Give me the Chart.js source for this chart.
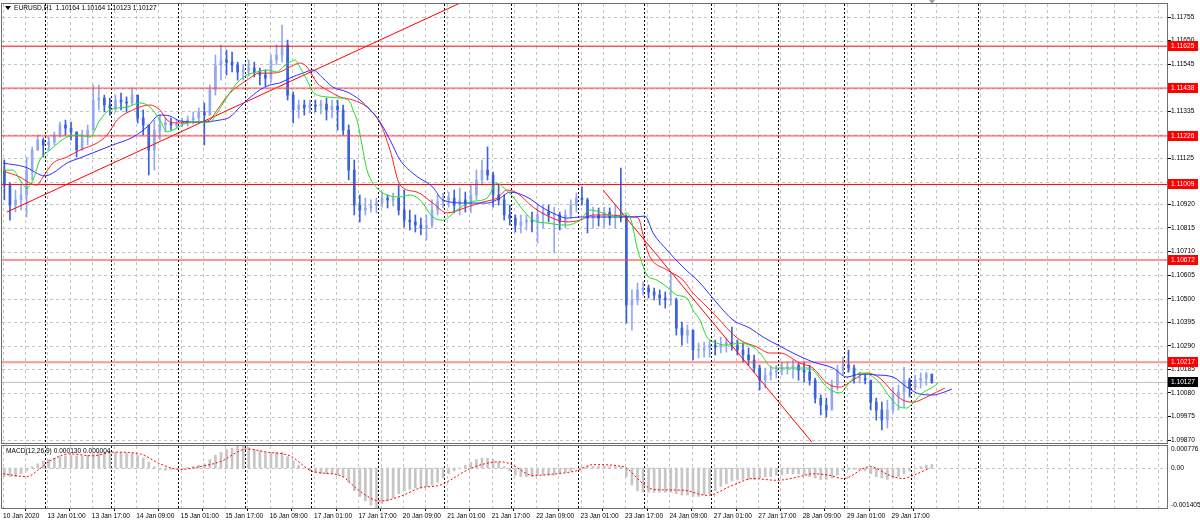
<!DOCTYPE html>
<html lang="en">
<head>
  <meta charset="UTF-8" />
  <title>EURUSD,H1</title>
  <script src="https://cdn.jsdelivr.net/npm/chart.js"></script>
  <style>
    html, body { margin: 0; padding: 0; background: #fff; }
    #wrap { position: relative; width: 1200px; height: 525px; overflow: hidden; background: #fff; }
    #wrap canvas { position: absolute; left: 0; }
    #priceChart { top: 0; }
    #macdChart { top: 440px; }
  </style>
</head>
<body>
<div id="wrap">
  <canvas id="priceChart" width="1200" height="447" style="width:1200px;height:447px"></canvas>
  <canvas id="macdChart" width="1200" height="85" style="width:1200px;height:85px"></canvas>
</div>
<script>
  // ---- data (2-hour candles, x in hourly bar index) ----
  const symbol = 'EURUSD,H1';
  const lastQuote = [1.10164, 1.10164, 1.10123, 1.10127]; // O H L C of the last bar
  const candleHours = 2;
  const firstOpen = 1.11073;

  const highs = [
    1.11118,1.11015,1.10984,1.11006,1.11131,1.11176,1.11229,1.11216,1.11220,1.11243,
    1.11287,1.11296,1.11287,1.11243,1.11251,1.11274,1.11452,1.11452,1.11407,1.11394,
    1.11407,1.11416,1.11399,1.11439,1.11407,1.11341,1.11274,1.11296,1.11318,1.11305,
    1.11305,1.11300,1.11305,1.11314,1.11332,1.11350,1.11372,1.11452,1.11586,1.11630,
    1.11608,1.11599,1.11554,1.11541,1.11563,1.11554,1.11528,1.11519,1.11586,1.11630,
    1.11719,1.11652,1.11421,1.11385,1.11385,1.11385,1.11385,1.11385,1.11394,1.11385,
    1.11385,1.11363,1.11274,1.11118,1.10962,1.10948,1.10940,1.10948,1.10975,1.10962,
    1.10971,1.11006,1.10984,1.10895,1.10873,1.10859,1.10873,1.10940,1.10962,1.10971,
    1.10975,1.10984,1.10993,1.10975,1.11006,1.11073,1.11118,1.11176,1.11064,1.11006,
    1.10962,1.10917,1.10873,1.10873,1.10873,1.10886,1.10917,1.10917,1.10917,1.10908,
    1.10886,1.10895,1.10940,1.10971,1.10997,1.10948,1.10908,1.10904,1.10908,1.10904,
    1.10917,1.11082,1.10873,1.10539,1.10570,1.10574,1.10561,1.10547,1.10539,1.10530,
    1.10614,1.10503,1.10396,1.10383,1.10360,1.10302,1.10307,1.10316,1.10316,1.10329,
    1.10325,1.10374,1.10316,1.10302,1.10280,1.10249,1.10204,1.10191,1.10200,1.10204,
    1.10218,1.10218,1.10227,1.10213,1.10218,1.10204,1.10146,1.10071,1.10057,1.10137,
    1.10204,1.10240,1.10271,1.10204,1.10173,1.10164,1.10137,1.10057,1.10039,1.10048,
    1.10106,1.10115,1.10195,1.10146,1.10160,1.10169,1.10173,1.10164
  ];
  const lows = [
    1.10940,1.10850,1.10886,1.10895,1.10864,1.11029,1.11162,1.11131,1.11162,1.11185,
    1.11220,1.11229,1.11207,1.11131,1.11162,1.11185,1.11251,1.11341,1.11332,1.11318,
    1.11332,1.11341,1.11332,1.11363,1.11283,1.11229,1.11051,1.11073,1.11207,1.11243,
    1.11251,1.11260,1.11265,1.11269,1.11278,1.11287,1.11185,1.11318,1.11407,1.11474,
    1.11497,1.11510,1.11474,1.11474,1.11492,1.11488,1.11452,1.11448,1.11465,1.11541,
    1.11554,1.11385,1.11283,1.11305,1.11318,1.11327,1.11332,1.11323,1.11296,1.11305,
    1.11251,1.11229,1.11029,1.10873,1.10842,1.10873,1.10886,1.10882,1.10908,1.10904,
    1.10913,1.10873,1.10819,1.10806,1.10797,1.10784,1.10761,1.10815,1.10873,1.10904,
    1.10908,1.10882,1.10873,1.10886,1.10882,1.10940,1.11006,1.11029,1.10908,1.10917,
    1.10850,1.10828,1.10797,1.10793,1.10806,1.10797,1.10748,1.10815,1.10842,1.10703,
    1.10806,1.10815,1.10859,1.10886,1.10917,1.10793,1.10815,1.10824,1.10819,1.10828,
    1.10815,1.10842,1.10391,1.10360,1.10472,1.10516,1.10503,1.10494,1.10472,1.10458,
    1.10472,1.10338,1.10293,1.10302,1.10227,1.10236,1.10240,1.10240,1.10249,1.10258,
    1.10262,1.10271,1.10249,1.10218,1.10204,1.10173,1.10093,1.10102,1.10137,1.10146,
    1.10160,1.10164,1.10146,1.10137,1.10129,1.10115,1.10035,1.09982,1.09973,1.10004,
    1.10093,1.10160,1.10173,1.10124,1.10124,1.10120,1.10004,1.09959,1.09915,1.09924,
    1.09990,1.10004,1.10017,1.10062,1.10093,1.10102,1.10115,1.10123
  ];
  const closes = [
    1.11006,1.10917,1.10940,1.10962,1.11073,1.11162,1.11207,1.11185,1.11198,1.11229,
    1.11274,1.11260,1.11243,1.11162,1.11229,1.11251,1.11385,1.11394,1.11363,1.11350,
    1.11385,1.11376,1.11372,1.11407,1.11305,1.11274,1.11162,1.11251,1.11274,1.11283,
    1.11274,1.11278,1.11287,1.11296,1.11305,1.11332,1.11318,1.11430,1.11541,1.11563,
    1.11554,1.11541,1.11510,1.11519,1.11528,1.11510,1.11497,1.11483,1.11563,1.11586,
    1.11630,1.11407,1.11341,1.11363,1.11350,1.11363,1.11358,1.11367,1.11341,1.11358,
    1.11341,1.11251,1.11073,1.10917,1.10895,1.10904,1.10917,1.10926,1.10948,1.10940,
    1.10948,1.10895,1.10850,1.10842,1.10828,1.10815,1.10828,1.10895,1.10931,1.10940,
    1.10948,1.10917,1.10940,1.10917,1.10962,1.11029,1.11073,1.11051,1.10962,1.10940,
    1.10873,1.10859,1.10828,1.10842,1.10850,1.10842,1.10873,1.10886,1.10873,1.10873,
    1.10842,1.10873,1.10917,1.10948,1.10940,1.10859,1.10873,1.10859,1.10886,1.10859,
    1.10873,1.10859,1.10472,1.10494,1.10539,1.10547,1.10530,1.10516,1.10503,1.10494,
    1.10494,1.10369,1.10338,1.10360,1.10271,1.10271,1.10280,1.10293,1.10285,1.10293,
    1.10307,1.10293,1.10271,1.10249,1.10227,1.10191,1.10137,1.10160,1.10173,1.10182,
    1.10191,1.10195,1.10204,1.10182,1.10173,1.10137,1.10057,1.10026,1.10004,1.10115,
    1.10182,1.10204,1.10191,1.10146,1.10146,1.10137,1.10039,1.10004,1.09959,1.10004,
    1.10071,1.10084,1.10137,1.10102,1.10137,1.10146,1.10164,1.10127
  ];

  // Alligator lines (jaw / teeth / lips), sampled along the picture
  const jawBars = [0,7.9,15.1,18,23,27.7,34.9,39.6,46.8,51.9,56.5,60.1,63.7,70.9,78.1,81.7,85.3,87.9,92.5,96.1,
    99.7,103.3,108,111.6,115.2,118.8,123.9,128.6,132.2,135.8,139.4,143,148.4,154.8,158.4,167.1,174.3,179,182.6,188.7,
    194.5,199.5,203.1,207.8,215,226.9,231.2,234.1,239.1,244.9,251,257.1,262.9,269,273.7,279.8,284.5,291.7,298.9,303.9,
    308.6,314.7,320.5,325.5,330.2,334.9,338.1,341.7];
  const jawPrices = [1.11104,1.11087,1.11047,1.11060,1.11104,1.11127,1.11162,1.11185,1.11220,1.11265,
    1.11318,1.11314,1.11292,1.11287,1.11296,1.11309,1.11354,1.11385,1.11430,1.11452,
    1.11461,1.11483,1.11505,1.11519,1.11483,1.11443,1.11421,1.11385,1.11341,1.11287,
    1.11207,1.11118,1.11051,1.10997,1.10940,1.10926,1.10926,1.10948,1.10975,1.10953,
    1.10904,1.10873,1.10859,1.10864,1.10864,1.10864,1.10868,1.10793,1.10717,1.10641,
    1.10570,1.10481,1.10405,1.10369,1.10329,1.10289,1.10258,1.10218,1.10191,1.10151,
    1.10164,1.10160,1.10151,1.10106,1.10075,1.10071,1.10080,1.10097];

  const teethBars = [0,6.1,9.7,12.2,14.4,18,23,27.7,33.9,37.5,41.1,46.8,52.9,56.5,59.1,62.7,70.9,74.5,77.1,81.7,
    87.9,92.5,96.1,99.7,103.3,106.9,109.5,113.1,116.7,121.4,126,131.1,135.8,139.4,143,149.1,154.8,159.9,167.1,172.9,
    177.9,181.5,185.1,190.9,197,203.1,207.8,212.5,217.5,226.9,228.7,231.2,233,239.1,244.9,248.5,252.1,257.1,260.7,265.4,
    271.5,276.2,279.8,287,291.7,296.7,301.4,306.1,311.1,315.8,320.5,324.1,327.7,332.7,336.3,339.2];
  const teethPrices = [1.11069,1.11042,1.11015,1.11006,1.11042,1.11104,1.11131,1.11162,1.11194,1.11229,
    1.11296,1.11341,1.11363,1.11341,1.11296,1.11283,1.11287,1.11296,1.11341,1.11416,
    1.11474,1.11505,1.11505,1.11510,1.11532,1.11550,1.11532,1.11461,1.11430,1.11399,
    1.11385,1.11354,1.11283,1.11162,1.11006,1.10975,1.10926,1.10882,1.10908,1.10931,
    1.10948,1.10984,1.10971,1.10908,1.10864,1.10842,1.10850,1.10873,1.10873,1.10864,
    1.10860,1.10750,1.10686,1.10628,1.10583,1.10525,1.10481,1.10418,1.10369,1.10316,
    1.10285,1.10258,1.10258,1.10213,1.10191,1.10124,1.10106,1.10137,1.10169,1.10146,
    1.10084,1.10048,1.10039,1.10062,1.10084,1.10102];

  const lipsBars = [0,3.6,6.1,8.6,10.8,13.3,16.9,23,27.7,31.3,34.9,38.5,44.7,49.3,52.9,56.5,59.1,61.2,66.3,70.9,
    74.5,77.1,80.7,84.3,87.9,91.5,95.1,98.7,100.8,103.3,105.2,106.9,109.5,111.6,116.7,121.4,125,126,127.5,129.3,
    131.1,134.7,138.3,143,146.6,150.2,154.8,158.4,163.5,168.2,174.3,177.9,180.1,183.7,187.3,190.9,195.9,203.1,207.8,211.4,
    215,221.1,224.7,226.5,228.3,230.1,231.9,235.5,239.1,242.7,246.3,248.5,251,253.5,257.1,260.7,265.4,270.1,272.6,277.3,
    284.5,289.5,291.7,296.7,301.4,305,308.6,312.2,315.8,319.4,323,325.5,327.7,331.2,334.9,336.7];
  const lipsPrices = [1.11073,1.11073,1.11029,1.10993,1.11029,1.11118,1.11162,1.11220,1.11229,1.11220,
    1.11296,1.11341,1.11354,1.11372,1.11354,1.11296,1.11243,1.11251,1.11283,1.11287,
    1.11287,1.11327,1.11399,1.11461,1.11497,1.11510,1.11519,1.11510,1.11532,1.11554,
    1.11563,1.11532,1.11474,1.11421,1.11399,1.11394,1.11376,1.11341,1.11296,1.11185,
    1.11073,1.10993,1.10962,1.10953,1.10962,1.10940,1.10864,1.10850,1.10895,1.10931,
    1.10948,1.11015,1.10997,1.10953,1.10895,1.10850,1.10837,1.10828,1.10850,1.10895,
    1.10886,1.10864,1.10882,1.10837,1.10730,1.10659,1.10605,1.10583,1.10552,1.10516,
    1.10503,1.10449,1.10405,1.10329,1.10302,1.10293,1.10302,1.10285,1.10258,1.10191,
    1.10191,1.10191,1.10182,1.10106,1.10080,1.10129,1.10169,1.10160,1.10124,1.10062,
    1.10017,1.10013,1.10035,1.10080,1.10106,1.10124];

  // horizontal levels and trend lines
  const levels = [1.11625, 1.11438, 1.11226, 1.11009, 1.10672, 1.10217];
  const levelIsThin = [true, false, false, true, false, false];
  const trendUpBars = [1.4, 164.6];
  const trendUpPrices = [1.10886, 1.11817];
  const trendDownBars = [216.1, 291.3];
  const trendDownPrices = [1.10984, 1.09861];

  // MACD(12,26,9): main as histogram, one value per candle; signal sampled
  const macdHist = [
    -0.00030,-0.00030,-0.00030,-0.00020,-0.00010,0.00005,0.00015,0.00025,0.00030,0.00035,
    0.00040,0.00043,0.00045,0.00043,0.00043,0.00045,0.00050,0.00055,0.00055,0.00056,
    0.00056,0.00054,0.00052,0.00052,0.00045,0.00035,0.00020,0.00005,-0.00005,-0.00008,
    -0.00005,-0.00003,0.00000,0.00002,0.00005,0.00010,0.00015,0.00030,0.00045,0.00055,
    0.00065,0.00070,0.00076,0.000776,0.00072,0.00065,0.00060,0.00055,0.00055,0.00055,
    0.00056,0.00040,0.00025,0.00010,0.00000,-0.00010,-0.00015,-0.00020,-0.00020,-0.00020,
    -0.00025,-0.00030,-0.00050,-0.00080,-0.00100,-0.00115,-0.00130,-0.001405,-0.00125,-0.00115,
    -0.00105,-0.00090,-0.00080,-0.00075,-0.00070,-0.00070,-0.00065,-0.00060,-0.00050,-0.00035,
    -0.00020,-0.00010,0.00000,0.00010,0.00020,0.00030,0.00035,0.00035,0.00030,0.00020,
    0.00005,-0.00010,-0.00025,-0.00030,-0.00030,-0.00030,-0.00025,-0.00025,-0.00025,-0.00025,
    -0.00020,-0.00015,-0.00010,0.00000,0.00005,0.00005,0.00005,0.00006,0.00006,0.00005,
    0.00005,0.00005,-0.00030,-0.00060,-0.00080,-0.00085,-0.00085,-0.00085,-0.00085,-0.00085,
    -0.00085,-0.00090,-0.00095,-0.00095,-0.00100,-0.00100,-0.00095,-0.00090,-0.00080,-0.00065,
    -0.00055,-0.00045,-0.00040,-0.00040,-0.00040,-0.00040,-0.00035,-0.00030,-0.00030,-0.00025,
    -0.00025,-0.00020,-0.00020,-0.00020,-0.00025,-0.00030,-0.00035,-0.00040,-0.00040,-0.00035,
    -0.00025,-0.00010,-0.00005,-0.00005,-0.00005,-0.00010,-0.00020,-0.00030,-0.00035,-0.00040,
    -0.00035,-0.00030,-0.00020,-0.00010,0.00000,0.00005,0.00010,0.00013
  ];
  const signalBars = [0,8.6,13.3,16.9,24.1,32.4,39.6,49.3,56.5,63.7,70.9,78.1,87.9,95.1,103.3,111.6,121.4,128.6,135.8,143,
    150.2,157.4,161,168.2,179,182.6,190.9,199.5,206.7,212.5,223.3,230.5,234.1,244.9,253.5,262.9,270.1,278.7,287,291.7,
    297.8,302.5,312.2,319.4,324.1,327.7,333.8];
  const signalValues = [-0.00020,-0.00030,-0.00002,0.00025,0.00050,0.00043,0.00056,0.00050,0.00015,-0.00005,
    0.00005,0.00022,0.00067,0.00056,0.00043,-0.00012,-0.00026,-0.00082,-0.00116,-0.00100,
    -0.00070,-0.00060,-0.00043,-0.00002,0.00022,0.00015,-0.00026,-0.00020,-0.00009,0.00012,
    0.00005,-0.00055,-0.00075,-0.00078,-0.00096,-0.00060,-0.00037,-0.00043,-0.00030,-0.00020,
    -0.00026,-0.00037,0.00005,-0.00026,-0.00037,-0.00026,0.000004];

  // axes
  const priceTicks = ['1.11755','1.11650','1.11545','1.11440','1.11335','1.11230','1.11125','1.11020','1.10920',
    '1.10815','1.10710','1.10605','1.10500','1.10395','1.10290','1.10185','1.10080','1.09975','1.09870'];
  const macdAxisLabels = ['0.000776', '0.00', '-0.001405'];
  const timeLabels = ['10 Jan 2020','13 Jan 01:00','13 Jan 17:00','14 Jan 09:00','15 Jan 01:00','15 Jan 17:00',
    '16 Jan 09:00','17 Jan 01:00','17 Jan 17:00','20 Jan 09:00','21 Jan 01:00','21 Jan 17:00','22 Jan 09:00',
    '23 Jan 01:00','23 Jan 17:00','24 Jan 09:00','27 Jan 01:00','27 Jan 17:00','28 Jan 09:00','29 Jan 01:00','29 Jan 17:00'];
  const barsPerLabel = 16;
  const daySeparators = [15,39,63,87,111,135,159,183,207,231,255,279,303,327,351];

  // ---- view settings ----
  const FONT = '"Liberation Sans", Arial, sans-serif';
  const FS = 6.6;
  const X_MIN = -0.36, X_MAX = 419.2;
  const PRICE_MIN = 1.09857, PRICE_MAX = 1.11813;
  const MACD_MIN = -0.001405, MACD_MAX = 0.000776;
  const gridBars = 8;

  const opens = [firstOpen].concat(closes.slice(0, -1));
  const candleX = closes.map((c, k) => k * candleHours + 0.5);
  const candleColor = closes.map((c, k) => c >= opens[k] ? '#93a9ee' : '#3a62dc');
  const lastBar = (closes.length - 1) * candleHours;

  function pairs(xs, ys) {
    return xs.map((x, i) => ({ x: x, y: ys[i] }));
  }

  // dashed MT4 style grid + day separators
  const mtGrid = {
    id: 'mtGrid',
    beforeDatasetsDraw(chart, args, opts) {
      const { ctx, chartArea: a } = chart;
      const x = chart.scales.x, y = chart.scales.y;
      ctx.save();
      ctx.beginPath();
      ctx.rect(a.left, a.top, a.right - a.left, a.bottom - a.top);
      ctx.clip();
      ctx.lineWidth = 1;
      ctx.strokeStyle = '#c4c4c4';
      ctx.setLineDash([3, 3]);
      ctx.beginPath();
      for (let b = 0; b <= X_MAX; b += gridBars) {
        const px = Math.round(x.getPixelForValue(b)) + 0.5;
        ctx.moveTo(px, a.top); ctx.lineTo(px, a.bottom);
      }
      (opts.hLines || []).forEach(v => {
        const py = Math.round(y.getPixelForValue(v)) + 0.5;
        ctx.moveTo(a.left, py); ctx.lineTo(a.right, py);
      });
      ctx.stroke();
      ctx.strokeStyle = '#000';
      ctx.setLineDash([2, 2]);
      ctx.beginPath();
      daySeparators.forEach(b => {
        const px = Math.round(x.getPixelForValue(b)) + 0.5;
        ctx.moveTo(px, a.top); ctx.lineTo(px, a.bottom);
      });
      ctx.stroke();
      ctx.restore();
    }
  };

  const frame = {
    id: 'frame',
    afterDraw(chart) {
      const { ctx, chartArea: a } = chart;
      ctx.save();
      ctx.strokeStyle = '#6f6f6f';
      ctx.lineWidth = 1;
      ctx.strokeRect(Math.round(a.left) - 0.5, Math.round(a.top) - 0.5,
        Math.round(a.right - a.left) + 1, Math.round(a.bottom - a.top) + 1);
      ctx.restore();
    }
  };

  const priceTags = {
    id: 'priceTags',
    afterDraw(chart) {
      const { ctx, chartArea: a } = chart;
      const x = chart.scales.x, y = chart.scales.y;
      ctx.save();
      ctx.font = FS + 'px ' + FONT;
      ctx.textBaseline = 'middle';
      const tag = (v, bg) => {
        const py = Math.round(y.getPixelForValue(v));
        ctx.fillStyle = bg;
        ctx.fillRect(a.right + 1, py - 5, 30, 10);
        ctx.fillStyle = '#fff';
        ctx.fillText(v.toFixed(5), a.right + 4, py + 0.5);
      };
      levels.forEach(v => tag(v, '#ff0000'));
      tag(lastQuote[3], '#000');

      // header
      ctx.fillStyle = '#000';
      ctx.beginPath();
      ctx.moveTo(a.left + 3, a.top + 2); ctx.lineTo(a.left + 9, a.top + 2); ctx.lineTo(a.left + 6, a.top + 6);
      ctx.closePath(); ctx.fill();
      ctx.fillText(symbol + '  ' + lastQuote.map(v => v.toFixed(5)).join(' '), a.left + 12, a.top + 4.5);

      // chart shift marker
      const sx = Math.round(x.getPixelForValue(lastBar)) + 2;
      ctx.fillStyle = '#a0a0a0';
      ctx.beginPath();
      ctx.moveTo(sx - 3, 0); ctx.lineTo(sx + 3, 0); ctx.lineTo(sx, 4);
      ctx.closePath(); ctx.fill();
      ctx.restore();
    }
  };

  const macdTags = {
    id: 'macdTags',
    afterDraw(chart) {
      const { ctx, chartArea: a } = chart;
      const y = chart.scales.y;
      ctx.save();
      ctx.font = FS + 'px ' + FONT;
      ctx.fillStyle = '#000';
      ctx.textBaseline = 'top';
      ctx.fillText(macdAxisLabels[0], a.right + 4, a.top);
      ctx.textBaseline = 'middle';
      ctx.fillText(macdAxisLabels[1], a.right + 4, Math.round(y.getPixelForValue(0)));
      ctx.textBaseline = 'bottom';
      ctx.fillText(macdAxisLabels[2], a.right + 4, a.bottom);
      ctx.textBaseline = 'middle';
      const mainVal = macdHist[macdHist.length - 1].toFixed(6);
      const sigVal = signalValues[signalValues.length - 1].toFixed(6);
      ctx.fillText('MACD(12,26,9) ' + mainVal + ' ' + sigVal, a.left + 4, a.top + 5);
      ctx.restore();
    }
  };

  const lineDs = (data, color, width, order, extra) => Object.assign({
    type: 'line', data: data, borderColor: color, borderWidth: width,
    pointRadius: 0, fill: false, order: order
  }, extra || {});

  const levelSets = levels.map((v, i) => lineDs(
    [{ x: X_MIN, y: v }, { x: X_MAX, y: v }],
    levelIsThin[i] ? '#ff0000' : 'rgba(255,60,60,0.55)',
    levelIsThin[i] ? 1 : 2, 2));

  new Chart(document.getElementById('priceChart'), {
    type: 'bar',
    data: {
      datasets: [
        lineDs([{ x: X_MIN, y: lastQuote[3] }, { x: X_MAX, y: lastQuote[3] }], '#c0c0c0', 1, 6),
        {
          type: 'bar', order: 5, grouped: false, barThickness: 1, borderWidth: 0,
          data: candleX.map((x, k) => ({ x: x, y: [lows[k], highs[k]] })),
          backgroundColor: candleColor
        },
        {
          type: 'bar', order: 4, grouped: false, barThickness: 2, borderWidth: 0, minBarLength: 1,
          data: candleX.map((x, k) => ({ x: x, y: [Math.min(opens[k], closes[k]), Math.max(opens[k], closes[k])] })),
          backgroundColor: candleColor
        },
        ...levelSets,
        lineDs(pairs(trendUpBars, trendUpPrices), '#ff0000', 1, 2),
        lineDs(pairs(trendDownBars, trendDownPrices), '#ff0000', 1, 2),
        lineDs(pairs(jawBars, jawPrices), '#2f2fff', 1, 1, { cubicInterpolationMode: 'monotone' }),
        lineDs(pairs(teethBars, teethPrices), '#ff2020', 1, 1, { cubicInterpolationMode: 'monotone' }),
        lineDs(pairs(lipsBars, lipsPrices), '#1fdc1f', 1, 0, { cubicInterpolationMode: 'monotone' })
      ]
    },
    options: {
      responsive: false,
      animation: false,
      devicePixelRatio: 1,
      events: [],
      layout: { padding: { left: 2, top: 4, right: 0, bottom: 4 } },
      plugins: {
        legend: { display: false },
        tooltip: { enabled: false },
        mtGrid: { hLines: priceTicks.map(Number) }
      },
      scales: {
        x: { type: 'linear', min: X_MIN, max: X_MAX, offset: false, display: false },
        y: {
          type: 'linear', position: 'right', min: PRICE_MIN, max: PRICE_MAX,
          afterBuildTicks: s => { s.ticks = priceTicks.map(t => ({ value: Number(t) })); },
          afterFit: s => { s.width = 33; },
          ticks: {
            autoSkip: false, color: '#000', padding: 0,
            font: { family: FONT, size: FS },
            callback: (v, i) => priceTicks[i]
          },
          grid: { drawOnChartArea: false, tickLength: 4, tickColor: '#000' },
          border: { display: true, color: '#6f6f6f' }
        }
      }
    },
    plugins: [mtGrid, priceTags, frame]
  });

  new Chart(document.getElementById('macdChart'), {
    type: 'bar',
    data: {
      datasets: [
        {
          type: 'bar', order: 2, grouped: false, barThickness: 2, borderWidth: 0,
          data: candleX.map((x, k) => ({ x: x, y: macdHist[k] })),
          backgroundColor: '#c6c6c6'
        },
        lineDs(pairs(signalBars, signalValues), '#ff0000', 1, 1,
          { borderDash: [2, 2], cubicInterpolationMode: 'monotone' })
      ]
    },
    options: {
      responsive: false,
      animation: false,
      devicePixelRatio: 1,
      events: [],
      layout: { padding: { left: 2, top: 6, right: 0, bottom: 0 } },
      plugins: {
        legend: { display: false },
        tooltip: { enabled: false },
        mtGrid: { hLines: [0] }
      },
      scales: {
        x: {
          type: 'linear', min: X_MIN, max: X_MAX, offset: false, position: 'bottom',
          afterBuildTicks: s => { s.ticks = timeLabels.map((t, i) => ({ value: i * barsPerLabel })); },
          afterFit: s => { s.height = 17; },
          ticks: {
            autoSkip: false, maxRotation: 0, align: 'start', color: '#000', padding: 1,
            font: { family: FONT, size: FS },
            callback: (v, i) => timeLabels[i]
          },
          grid: { drawOnChartArea: false, tickLength: 3, tickColor: '#000' },
          border: { display: true, color: '#6f6f6f' }
        },
        y: {
          type: 'linear', position: 'right', min: MACD_MIN, max: MACD_MAX,
          afterFit: s => { s.width = 33; },
          ticks: { display: false },
          grid: { display: false },
          border: { display: true, color: '#6f6f6f' }
        }
      }
    },
    plugins: [mtGrid, macdTags, frame]
  });
</script>
</body>
</html>
